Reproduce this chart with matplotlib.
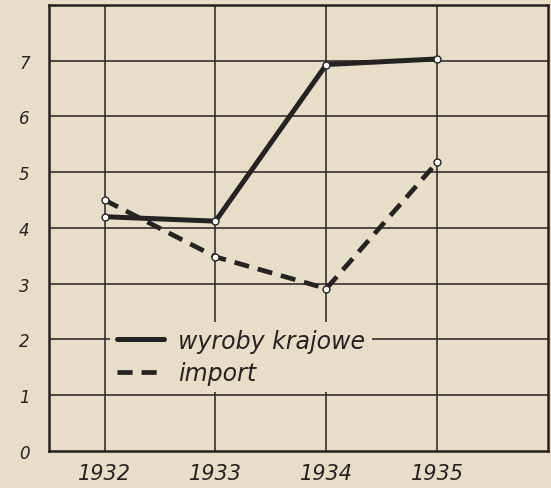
import matplotlib.pyplot as plt

# dane
lata = [1932, 1933, 1934, 1935]
wyroby_krajowe = [4.2, 4.12, 6.93, 7.03]
import_ = [4.5, 3.48, 2.91, 5.18]
y_ticks = [0, 1, 2, 3, 4, 5, 6, 7]

tlo = '#e8dec8'
tusz = '#252223'

fig = plt.figure(figsize=(5.51, 4.89), dpi=100, facecolor=tlo)
ax = fig.add_axes([0.089, 0.076, 0.906, 0.912], facecolor=tlo)

# siatka
for y in y_ticks[1:]:
    ax.axhline(y, color=tusz, lw=1.1, zorder=1)
for x in lata:
    ax.axvline(x, color=tusz, lw=1.1, zorder=1)

ax.plot(lata, wyroby_krajowe, color=tusz, lw=3.6, solid_capstyle='round',
        marker='o', ms=5, mfc='white', mec=tusz, mew=1.0, zorder=3,
        label='wyroby krajowe')
ax.plot(lata, import_, color=tusz, lw=3.4, linestyle=(0, (3.2, 1.9)),
        marker='o', ms=5, mfc='white', mec=tusz, mew=1.0, zorder=3,
        label='import')

ax.set_xlim(1931.5, 1936.0)
ax.set_ylim(0, 8)
ax.set_xticks(lata)
ax.set_xticklabels([str(r) for r in lata], fontsize=15, style='italic')
ax.set_yticks(y_ticks)
ax.set_yticklabels([str(v) for v in y_ticks], fontsize=12, style='italic')
ax.tick_params(axis='both', length=0, colors=tusz)
ax.tick_params(axis='x', pad=9)
ax.tick_params(axis='y', pad=14)

for s in ax.spines.values():
    s.set_color(tusz)
    s.set_linewidth(1.8)

leg = ax.legend(loc='upper left', bbox_to_anchor=(0.122, 0.29),
                borderaxespad=0, frameon=True, fancybox=False,
                facecolor=tlo, edgecolor='none', framealpha=1,
                handlelength=2.0, handletextpad=0.6, labelspacing=0.35,
                borderpad=0.3,
                prop={'size': 17, 'style': 'italic'})
leg.set_zorder(4)
for h in leg.get_lines():
    h.set_marker('')
for t in leg.get_texts():
    t.set_color(tusz)

fig.savefig('out.png', dpi=100, facecolor=tlo)
